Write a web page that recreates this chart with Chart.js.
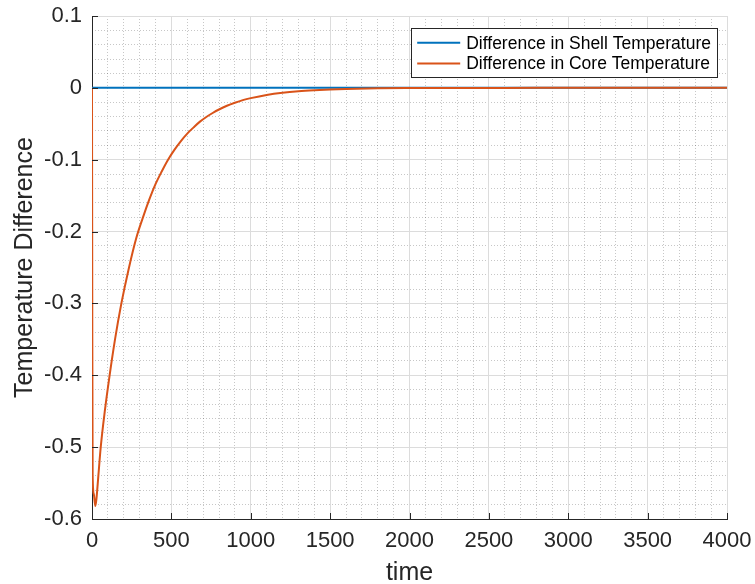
<!DOCTYPE html>
<html>
<head>
<meta charset="utf-8">
<script src="https://cdn.jsdelivr.net/npm/chart.js@4.4.1/dist/chart.umd.min.js"></script>
<style>
  html, body { margin: 0; padding: 0; background: #ffffff; }
  #c { display: block; }
</style>
</head>
<body>
<canvas id="c" width="755" height="584"></canvas>
<script>
// ---- data ----
const coreTime = [0, 2, 4, 11, 21, 28, 40, 55, 80, 111, 145, 185, 230, 279, 320, 360, 400, 440, 479, 520, 560, 600, 640, 680, 720, 760, 800, 850, 900, 950, 1000, 1100, 1200, 1300, 1400, 1500, 1600, 1800, 2000, 2300, 2600, 3000, 4000];
const coreDiff = [0, -0.35, -0.538, -0.565, -0.582, -0.572, -0.540, -0.500, -0.451, -0.400, -0.350, -0.300, -0.253, -0.209, -0.181, -0.156, -0.134, -0.116, -0.100, -0.086, -0.074, -0.0636, -0.055, -0.047, -0.0405, -0.035, -0.0301, -0.0249, -0.0207, -0.0171, -0.0143, -0.0098, -0.0067, -0.0046, -0.0032, -0.0022, -0.0015, -0.0007, -0.00034, -0.0001, -0.00003, 0, 0];
const shellTime = [0, 1000, 2000, 3000, 4000];
const shellDiff = [0, 0, 0, 0, 0];
const seriesLabels = ['Difference in Shell Temperature', 'Difference in Core Temperature'];
const xTickLabels = ['0', '500', '1000', '1500', '2000', '2500', '3000', '3500', '4000'];
const yTickLabels = ['-0.6', '-0.5', '-0.4', '-0.3', '-0.2', '-0.1', '0', '0.1'];
const xTitle = 'time';
const yTitle = 'Temperature Difference';

const X_MIN = Number(xTickLabels[0]), X_MAX = Number(xTickLabels[xTickLabels.length - 1]);
const Y_MIN = Number(yTickLabels[0]), Y_MAX = Number(yTickLabels[yTickLabels.length - 1]);

const FONT = "'Liberation Sans', Arial, Helvetica, sans-serif";
const AXIS_COLOR = '#262626';

function pts(xs, ys) { return xs.map((x, i) => ({ x: x, y: ys[i] })); }

// inward tick marks (MATLAB style)
const inwardTicks = {
  id: 'inwardTicks',
  afterDraw(chart) {
    const ctx = chart.ctx, a = chart.chartArea;
    const xs = chart.scales.x, ys = chart.scales.y;
    ctx.save();
    ctx.strokeStyle = AXIS_COLOR;
    ctx.lineWidth = 1;
    ctx.beginPath();
    xs.ticks.forEach(t => {
      const p = Math.round(xs.getPixelForValue(t.value)) + 0.5;
      ctx.moveTo(p, a.bottom); ctx.lineTo(p, a.bottom - 6);
    });
    ys.ticks.forEach(t => {
      const p = Math.round(ys.getPixelForValue(t.value)) + 0.5;
      ctx.moveTo(a.left, p); ctx.lineTo(a.left + 6, p);
    });
    ctx.stroke();
    ctx.restore();
  }
};

// boxed legend in the upper-right corner of the axes
const boxLegend = {
  id: 'boxLegend',
  afterDraw(chart) {
    const ctx = chart.ctx, a = chart.chartArea;
    const ds = chart.data.datasets;
    ctx.save();
    ctx.font = "17.5px " + FONT;
    let maxW = 0;
    ds.forEach(d => { maxW = Math.max(maxW, ctx.measureText(d.label).width); });
    const lineLen = 43, gap = 6, padL = 6, padR = 6, rowH = 20.6, padV = 4;
    const w = padL + lineLen + gap + maxW + padR;
    const h = padV * 2 + rowH * ds.length;
    const right = a.right - 10, top = a.top + 12;
    const left = right - w;
    ctx.fillStyle = '#ffffff';
    ctx.fillRect(left, top, w, h);
    ctx.strokeStyle = AXIS_COLOR;
    ctx.lineWidth = 1;
    ctx.strokeRect(Math.round(left) + 0.5, Math.round(top) + 0.5, Math.round(w), Math.round(h));
    ds.forEach((d, i) => {
      const cy = top + padV + rowH * (i + 0.5) + 0.5;
      ctx.strokeStyle = d.borderColor;
      ctx.lineWidth = 2;
      ctx.beginPath();
      ctx.moveTo(left + padL, cy); ctx.lineTo(left + padL + lineLen, cy);
      ctx.stroke();
      ctx.fillStyle = '#000000';
      ctx.textBaseline = 'middle';
      ctx.textAlign = 'left';
      ctx.fillText(d.label, left + padL + lineLen + gap, cy + 1);
    });
    ctx.restore();
  }
};

new Chart(document.getElementById('c'), {
  type: 'line',
  data: {
    datasets: [
      {
        label: seriesLabels[0],
        data: pts(shellTime, shellDiff),
        borderColor: '#0072BD',
        backgroundColor: '#0072BD',
        borderWidth: 2,
        pointRadius: 0,
        fill: false,
        order: 1
      },
      {
        label: seriesLabels[1],
        data: pts(coreTime, coreDiff),
        borderColor: '#D95319',
        backgroundColor: '#D95319',
        borderWidth: 2,
        pointRadius: 0,
        fill: false,
        cubicInterpolationMode: 'monotone',
        order: 0
      }
    ]
  },
  options: {
    responsive: false,
    animation: false,
    layout: { padding: { left: 0, right: 28, top: 16, bottom: 0 } },
    plugins: {
      legend: { display: false },
      tooltip: { enabled: false }
    },
    scales: {
      xMinor: {
        type: 'linear', position: 'bottom', min: X_MIN, max: X_MAX,
        ticks: { display: false, stepSize: 100, maxTicksLimit: 1000, autoSkip: false },
        grid: { color: 'rgba(0,0,0,0.22)', lineWidth: 1, drawTicks: false },
        border: { display: false, dash: [1, 2] },
        afterFit(s) { s.height = 0; s.paddingLeft = 0; s.paddingRight = 0; }
      },
      yMinor: {
        type: 'linear', position: 'left', min: Y_MIN, max: Y_MAX,
        ticks: { display: false, stepSize: 0.02, maxTicksLimit: 1000, autoSkip: false },
        grid: { color: 'rgba(0,0,0,0.22)', lineWidth: 1, drawTicks: false },
        border: { display: false, dash: [1, 2] },
        afterFit(s) { s.width = 0; s.paddingTop = 0; s.paddingBottom = 0; }
      },
      x: {
        type: 'linear', position: 'bottom', min: X_MIN, max: X_MAX,
        ticks: {
          stepSize: 500, autoSkip: false, maxRotation: 0, padding: 9,
          color: AXIS_COLOR, font: { family: FONT, size: 22 },
          callback: (v) => { const i = xTickLabels.indexOf(String(v)); return i >= 0 ? xTickLabels[i] : ''; }
        },
        grid: { color: '#dcdcdc', lineWidth: 1, drawTicks: false },
        border: { display: true, color: AXIS_COLOR, width: 1 },
        title: {
          display: true, text: xTitle, color: AXIS_COLOR,
          font: { family: FONT, size: 25, lineHeight: 0.9 }, padding: { top: 0, bottom: 0 }
        },
        afterFit(s) { s.height = 65; s.paddingLeft = 0; s.paddingRight = 0; }
      },
      y: {
        type: 'linear', position: 'left', min: Y_MIN, max: Y_MAX,
        ticks: {
          stepSize: 0.1, autoSkip: false, padding: 10,
          color: AXIS_COLOR, font: { family: FONT, size: 22 },
          callback: (v) => String(Number(Number(v).toFixed(1)))
        },
        grid: { color: '#dcdcdc', lineWidth: 1, drawTicks: false },
        border: { display: true, color: AXIS_COLOR, width: 1 },
        title: {
          display: true, text: yTitle, color: AXIS_COLOR,
          font: { family: FONT, size: 25, lineHeight: 1 }, padding: { top: 13, bottom: 0 }
        },
        afterFit(s) { s.width = 92; s.paddingTop = 0; s.paddingBottom = 0; }
      }
    }
  },
  plugins: [inwardTicks, boxLegend]
});
</script>
</body>
</html>
